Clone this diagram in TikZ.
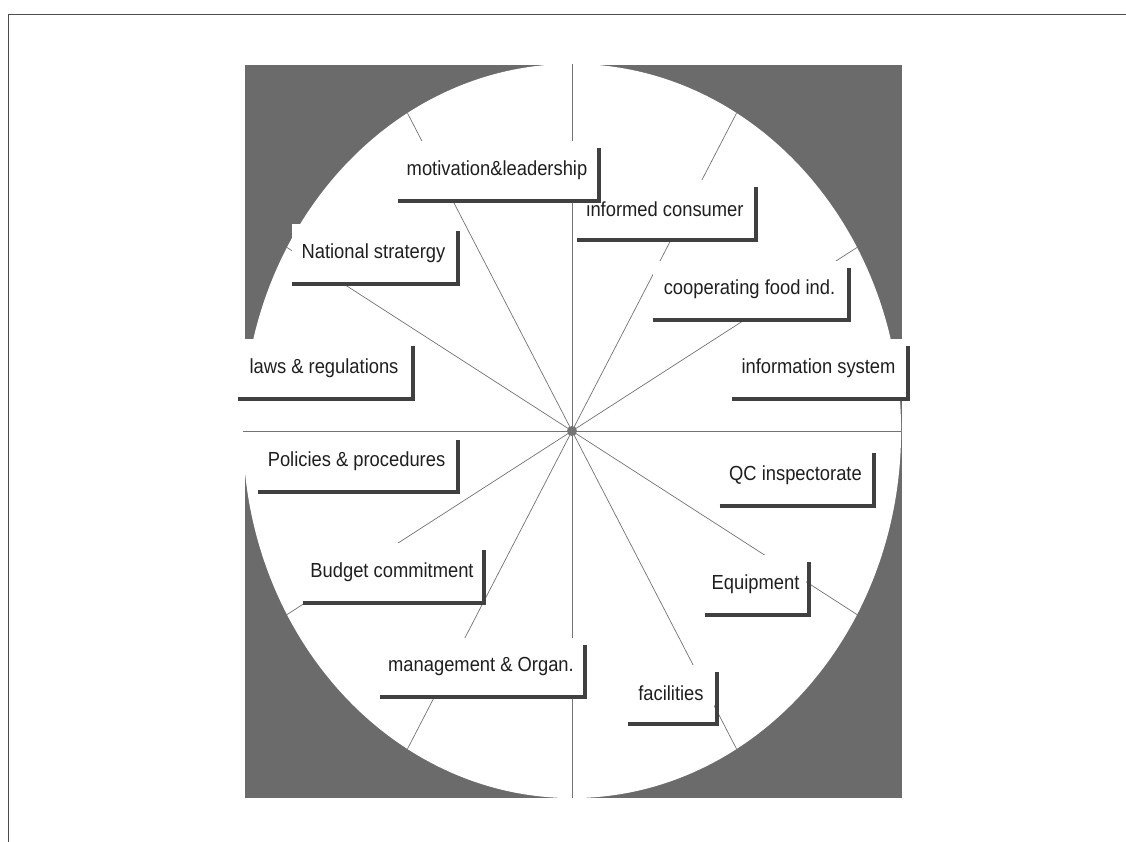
\documentclass[tikz,border=0pt]{standalone}
\usepackage{fontspec}
\setmainfont[FakeStretch=0.9]{Liberation Sans}

\begin{document}
\begin{tikzpicture}[x=0.025cm, y=-0.025cm,
    lbl/.style={fill=white, inner sep=0pt, minimum height=1.425cm, text=black!88,
      font=\fontsize{14.5}{16}\selectfont},
    wd/.style={minimum width=#1*0.025cm},
    spoke/.style={black!55, line width=0.5pt},
    shadowbar/.style={black!75, line width=0.1cm}]
      \useasboundingbox (0,0) rectangle (1126,842);
      \draw [black!70, line width=0.6pt] (1126,14) -- (8,14) -- (8,842);
      \fill [black!58] (245,65) rectangle (902,798);
      \fill [white] (572,431) ellipse [x radius=8.225cm, y radius=9.175cm];
      % points on the rim, every 30 degrees
      \foreach \a in {0,30,...,330}
        \coordinate (e\a) at ({572+329*cos(\a)},{431-367*sin(\a)});
      \foreach \a [evaluate=\a as \b using int(\a+180)] in {0,30,...,150}
        \draw [spoke] (e\a) -- (e\b);
      \node [circle, fill=black!55, minimum size=0.25cm, inner sep=0pt] (hub) at (572,431) {};
      \node [lbl, wd=176] (consumer) at (665,209) {informed consumer};
      \node [lbl, wd=198] (motiv) at (497,170) {motivation\&leadership};
      \node [lbl, wd=163] (strategy) at (373.5,253) {National stratergy};
      \node [lbl, wd=193] (coopfood) at (749.5,289.5) {cooperating food ind.};
      \node [lbl, wd=172] (laws) at (324,368) {laws \& regulations};
      \node [lbl, wd=173] (infosys) at (818.5,368) {information system};
      \node [lbl, wd=197] (policies) at (356.5,461.5) {Policies \& procedures};
      \node [lbl, wd=151] (qc) at (795.5,475) {QC inspectorate};
      \node [lbl, wd=178] (budget) at (392,572) {Budget commitment};
      \node [lbl, wd=101] (equip) at (755.5,584) {Equipment};
      \node [lbl, wd=202] (mgmt) at (481,666.5) {management \& Organ.};
      \node [lbl, wd=86] (facil) at (671,693.5) {facilities};
      % shadows on the right and bottom of each box
      \foreach \n in {consumer,motiv,strategy,coopfood,laws,infosys,policies,qc,budget,equip,mgmt,facil}
        \draw [shadowbar] ([yshift=-0.05cm]\n.south west) -| ([xshift=0.075cm,yshift=-0.175cm]\n.north east);
\end{tikzpicture}
\end{document}
